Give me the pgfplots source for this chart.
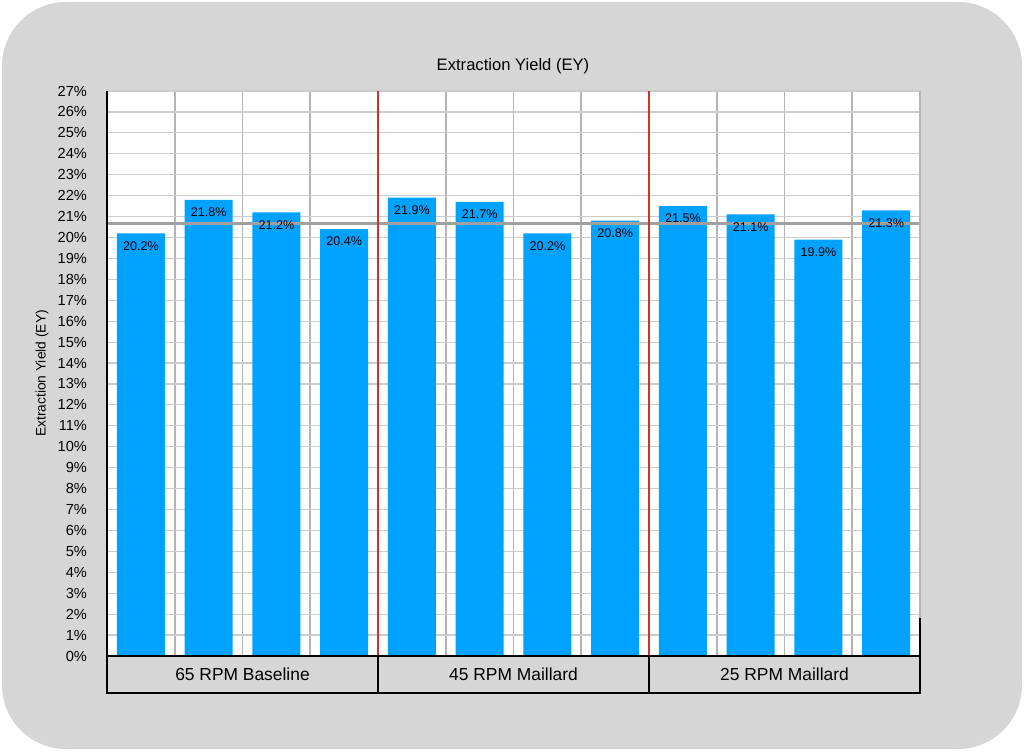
\documentclass[border=0pt]{standalone}
\usepackage{pgfplots}
\pgfplotsset{compat=1.18}
\usepackage{fontspec}
\setmainfont{Liberation Sans}
\definecolor{bg}{HTML}{D6D6D6}
\definecolor{barblue}{HTML}{00A2FF}
\definecolor{hgrid}{HTML}{CCCCCC}
\definecolor{vgrid}{HTML}{B4B4B4}
\definecolor{redline}{HTML}{D0312D}
\definecolor{meanline}{HTML}{A0A0A0}
\begin{document}
\begin{tikzpicture}
\path[use as bounding box] (0pt,0pt) rectangle (512pt,375.5pt);
\fill[white] (0pt,0pt) rectangle (512pt,375.5pt);
\fill[bg,rounded corners=32pt] (1pt,1pt) rectangle (511pt,374.5pt);
\begin{axis}[
  at={(53.5pt,47.5pt)}, anchor=south west,
  scale only axis, width=406.5pt, height=282.5pt,
  axis background/.style={fill=white},
  xmin=0, xmax=12, ymin=0, ymax=27,
  ytick={0,1,...,27},
  yticklabel={\pgfmathprintnumber{\tick}\%},
  /pgf/number format/assume math mode=true,
  xtick={1,2,3,5,6,7,9,10,11}, xticklabels={},
  xmajorgrids, ymajorgrids,
  major tick length=0pt,
  axis line style={draw=none},
  x grid style={vgrid, line width=0.8pt},
  y grid style={hgrid, line width=0.6pt},
  ticklabel style={font=\fontsize{7.3}{8}\selectfont},
  yticklabel style={xshift=-6.5pt},
  clip=false,
]
\addplot[ybar, bar width=0.71, fill=barblue, draw=none,
  nodes near coords={\pgfmathprintnumber[fixed,fixed zerofill,precision=1]{\pgfplotspointmeta}\%},
  every node near coord/.append style={anchor=north, yshift=-0.5pt, font=\fontsize{6.3}{7}\selectfont, text=black}]
  coordinates {(0.5,20.2) (1.5,21.8) (2.5,21.2) (3.5,20.4)
               (4.5,21.9) (5.5,21.7) (6.5,20.2) (7.5,20.8)
               (8.5,21.5) (9.5,21.1) (10.5,19.9) (11.5,21.3)};
\addplot[meanline, line width=1.5pt, forget plot] coordinates {(0,20.65) (12,20.65)};
\draw[redline, line width=0.9pt] (axis cs:4,0) -- (axis cs:4,27);
\draw[redline, line width=0.9pt] (axis cs:8,0) -- (axis cs:8,27);
\draw[vgrid, line width=0.8pt] (axis cs:12,0) -- (axis cs:12,27);
\draw[black, line width=0.8pt] (axis cs:0,0) rectangle (axis cs:12,-1.77);
\draw[black, line width=0.8pt] (axis cs:4,0) -- (axis cs:4,-1.77);
\draw[black, line width=0.8pt] (axis cs:8,0) -- (axis cs:8,-1.77);
\draw[black, line width=0.8pt] (axis cs:0,27) -- (axis cs:0,-1.77);
\draw[black, line width=0.8pt] (axis cs:12,1.8) -- (axis cs:12,-1.77);
\node[font=\fontsize{8.7}{10}\selectfont] at (axis cs:2,-0.885) {65 RPM Baseline};
\node[font=\fontsize{8.7}{10}\selectfont] at (axis cs:6,-0.885) {45 RPM Maillard};
\node[font=\fontsize{8.7}{10}\selectfont] at (axis cs:10,-0.885) {25 RPM Maillard};
\end{axis}
\node[font=\fontsize{8.3}{10}\selectfont] at (256.5pt,342.5pt) {Extraction Yield (EY)};
\node[font=\fontsize{6.9}{8}\selectfont, rotate=90] at (21pt,188.75pt) {Extraction Yield (EY)};
\end{tikzpicture}
\end{document}
